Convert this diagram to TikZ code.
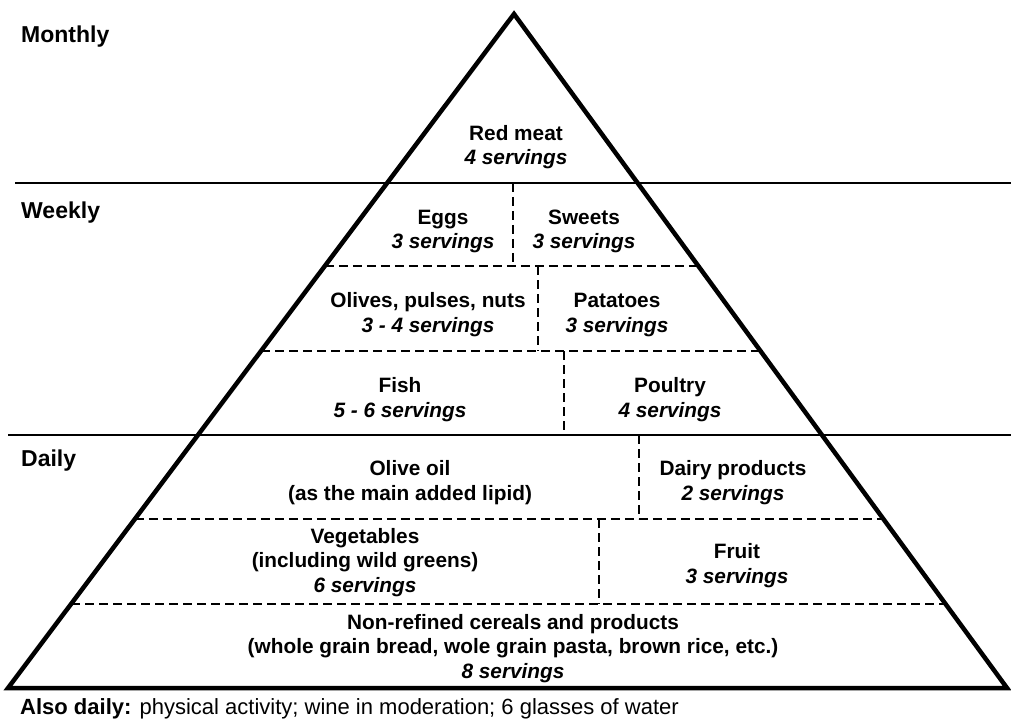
\documentclass[tikz,border=0pt]{standalone}
\usepackage{fontspec}
\setmainfont{Liberation Sans}
\usetikzlibrary{calc}
\tikzset{
  pyr/.style={line width=4.5pt, line join=miter},
  solidrule/.style={line width=2.5pt},
  dashrule/.style={line width=2.5pt, dash pattern=on 9pt off 5pt},
  lvl/.style={font=\fontsize{23}{27}\selectfont\bfseries, inner sep=0pt, anchor=base west},
  txt/.style={font=\fontsize{20.8}{24.5}\selectfont\bfseries, inner sep=0pt, align=center, anchor=base},
  foot/.style={font=\fontsize{22}{26}\selectfont, inner sep=0pt, anchor=base west}
}
\begin{document}
\begin{tikzpicture}[x=1pt,y=-1pt]
\useasboundingbox (0,0) rectangle (1011,719);
\coordinate (apex) at (514,14);
\coordinate (bl) at (8,688);
\coordinate (br) at (1007,688);
% level separators
\coordinate (m1) at (15,183); \coordinate (m2) at (1011,183);
\coordinate (d1) at (8,435);  \coordinate (d2) at (1011,435);
\draw[solidrule] (m1) -- (m2);
\draw[solidrule] (d1) -- (d2);
% dashed horizontal lines
\coordinate (a1) at ($(apex)!0.37389!(bl)$); \coordinate (a2) at ($(apex)!0.37389!(br)$);
\coordinate (b1) at ($(apex)!0.5!(bl)$);     \coordinate (b2) at ($(apex)!0.5!(br)$);
\coordinate (c1) at ($(apex)!0.74926!(bl)$); \coordinate (c2) at ($(apex)!0.74926!(br)$);
\coordinate (e1) at ($(apex)!0.87537!(bl)$); \coordinate (e2) at ($(apex)!0.87537!(br)$);
\draw[dashrule] (a1) -- (a2);
\draw[dashrule] (b1) -- (b2);
\draw[dashrule] (c1) -- (c2);
\draw[dashrule] (e1) -- (e2);
% dashed vertical dividers
\coordinate (v1t) at (513,183); \coordinate (v1b) at (513,266);
\coordinate (v2t) at (538,266); \coordinate (v2b) at (538,351);
\coordinate (v3t) at (564,351); \coordinate (v3b) at (564,435);
\coordinate (v4t) at (639,435); \coordinate (v4b) at (639,519);
\coordinate (v5t) at (599,519); \coordinate (v5b) at (599,604);
\draw[dashrule] (v1t) -- (v1b);
\draw[dashrule] (v2t) -- (v2b);
\draw[dashrule] (v3t) -- (v3b);
\draw[dashrule] (v4t) -- (v4b);
\draw[dashrule] (v5t) -- (v5b);
% pyramid
\draw[pyr] (apex) -- (bl) -- (br) -- cycle;
% level labels
\node[lvl] (monthly) at (21,43) {Monthly};
\node[lvl] (weekly) at (21,219) {Weekly};
\node[lvl] (daily) at (21,466) {Daily};
% contents (anchor = baseline of the last line)
\node[txt] (redmeat) at (516,165) {Red meat\\\textit{4 servings}};
\node[txt] (eggs) at (443,249) {Eggs\\\textit{3 servings}};
\node[txt] (sweets) at (584,249) {Sweets\\\textit{3 servings}};
\node[txt] (olives) at (428,332) {Olives, pulses, nuts\\\textit{3 - 4 servings}};
\node[txt] (patatoes) at (617,332) {Patatoes\\\textit{3 servings}};
\node[txt] (fish) at (400,417) {Fish\\\textit{5 - 6 servings}};
\node[txt] (poultry) at (670,417) {Poultry\\\textit{4 servings}};
\node[txt] (oliveoil) at (410,500) {Olive oil\\(as the main added lipid)};
\node[txt] (dairy) at (733,500) {Dairy products\\\textit{2 servings}};
\node[txt] (veg) at (365,592) {Vegetables\\(including wild greens)\\\textit{6 servings}};
\node[txt] (fruit) at (737,583) {Fruit\\\textit{3 servings}};
\node[txt] (cereals) at (513,678) {Non-refined cereals and products\\(whole grain bread, wole grain pasta, brown rice, etc.)\\\textit{8 servings}};
\node[foot] (also) at (20,714) {\textbf{Also daily:} physical activity; wine in moderation; 6 glasses of water};
\end{tikzpicture}
\end{document}
